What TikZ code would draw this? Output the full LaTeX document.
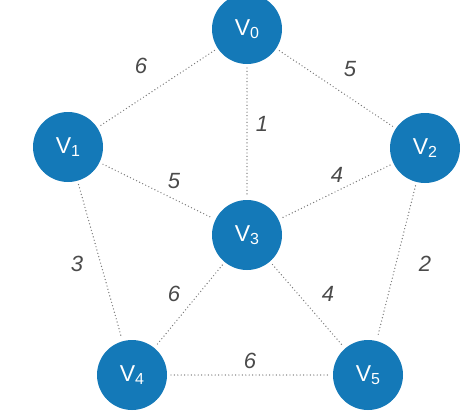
\documentclass[tikz,border=0pt]{standalone}
\usepackage{fontspec}
\setmainfont{Liberation Sans}
\begin{document}
\begin{tikzpicture}[x=1pt,y=-1pt,
  vert/.style={circle,fill=vblue,minimum size=70pt,inner sep=0pt,outer sep=4pt,text=white,font=\fontsize{23}{23}\selectfont},
  edge/.style={draw=edgegray,line width=1.4pt,line cap=round,dash pattern=on 0pt off 3.4pt},
  wlab/.style={text=labgray,font=\fontsize{22}{22}\selectfont\itshape}]
\definecolor{vblue}{HTML}{1479B8}
\definecolor{edgegray}{HTML}{7A7A7A}
\definecolor{labgray}{HTML}{4A4A4A}
\useasboundingbox (0,0) rectangle (460,410);
\newcommand{\vlab}[1]{V\raisebox{-3.5pt}{\fontsize{16}{16}\selectfont #1}}
\node[vert] (v0) at (247,29) {\vlab{0}};
\node[vert] (v1) at (68,147) {\vlab{1}};
\node[vert] (v2) at (425,148) {\vlab{2}};
\node[vert] (v3) at (247,235) {\vlab{3}};
\node[vert] (v4) at (132,375) {\vlab{4}};
\node[vert] (v5) at (368,375) {\vlab{5}};
\draw[edge] (v0) -- (v1);
\draw[edge] (v0) -- (v2);
\draw[edge] (v0) -- (v3);
\draw[edge] (v1) -- (v3);
\draw[edge] (v2) -- (v3);
\draw[edge] (v1) -- (v4);
\draw[edge] (v3) -- (v4);
\draw[edge] (v3) -- (v5);
\draw[edge] (v2) -- (v5);
\draw[edge] (v4) -- (v5);
\node[wlab] (w01) at (141,66) {6};
\node[wlab] (w02) at (350,69) {5};
\node[wlab] (w03) at (262,124) {1};
\node[wlab] (w13) at (174,181) {5};
\node[wlab] (w23) at (337,175) {4};
\node[wlab] (w14) at (77,264) {3};
\node[wlab] (w34) at (174,294) {6};
\node[wlab] (w35) at (328,294) {4};
\node[wlab] (w25) at (425,264) {2};
\node[wlab] (w45) at (250,361) {6};
\end{tikzpicture}
\end{document}
